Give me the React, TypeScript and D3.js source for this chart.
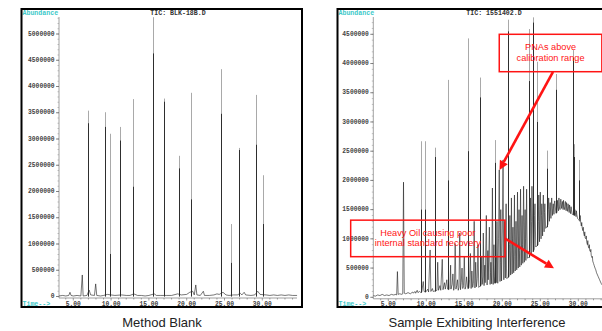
import React, { useRef, useEffect } from "react";
import * as d3 from "d3";

const W = 602;
const H = 331;

// retention time labels (min)
const timeTicks = [5, 10, 15, 20, 25, 30];
// abundance ticks, in millions
const blankAbundTicks = [0, 0.5, 1, 1.5, 2, 2.5, 3, 3.5, 4, 4.5, 5];
const sampleAbundTicks = [0, 0.5, 1, 1.5, 2, 2.5, 3, 3.5, 4, 4.5];

// method blank: [time, apex, dark core] in millions
const blankPeaks: [number, number, number][] = [
  [6.94, 3.54, 3.3], [9.23, 3.51, 3.23], [9.85, 3.1, 0.81], [11.2, 3.23, 2.97],
  [12.86, 3.76, 2.09], [15.5, 5.32, 4.63], [17.04, 3.77, 3.71], [19.0, 2.68, 2.44],
  [20.58, 3.88, 1.85], [24.55, 4.33, 3.48], [25.86, 1.38, 0.64], [26.9, 2.83, 2.79],
  [29.17, 3.84, 2.89], [30.13, 2.31, 1.38],
];

// method blank baseline: [time, abundance M]
const blankTrace: [number, number][] = [
  [3.1, 0.01], [3.6, 0.02], [4.0, 0.01], [4.4, 0.02], [4.56, 0.08], [4.7, 0.02], [5.0, 0.01],
  [5.5, 0.02], [6.0, 0.01], [6.19, 0.41], [6.3, 0.01], [6.8, 0.02], [7.1, 0.12], [7.3, 0.03],
  [7.8, 0.02], [7.96, 0.24], [8.1, 0.02], [8.6, 0.01], [9.0, 0.02], [9.5, 0.04], [10.0, 0.03],
  [10.5, 0.02], [11.4, 0.03], [12.0, 0.02], [12.5, 0.02], [13.0, 0.05], [13.5, 0.02], [14.0, 0.02],
  [14.5, 0.01], [15.0, 0.02], [15.7, 0.05], [16.0, 0.02], [16.5, 0.02], [17.3, 0.02], [18.0, 0.02],
  [18.8, 0.05], [19.3, 0.03], [20.0, 0.04], [20.4, 0.08], [20.8, 0.1], [21.0, 0.03], [21.2, 0.22],
  [21.35, 0.03], [21.8, 0.02], [22.2, 0.1], [22.35, 0.02], [23.0, 0.02], [23.6, 0.03], [24.0, 0.05],
  [24.3, 0.04], [24.8, 0.08], [25.2, 0.03], [25.6, 0.02], [26.2, 0.03], [26.7, 0.03], [27.1, 0.06],
  [27.3, 0.03], [27.6, 0.08], [27.8, 0.03], [28.5, 0.02], [29.0, 0.03], [29.4, 0.1], [29.7, 0.04],
  [30.5, 0.03], [31.0, 0.02], [31.5, 0.03], [32.0, 0.02], [32.5, 0.03], [33.0, 0.02], [33.5, 0.03],
  [34.0, 0.02], [34.6, 0.02],
];

// sample: tall peaks [time, apex, dark core] in millions
const samplePeaks: [number, number, number][] = [
  [9.26, 2.67, 1.5], [9.87, 2.67, 1.5], [11.2, 2.56, 2.4], [12.9, 3.72, 2.0],
  [15.5, 4.43, 2.5], [17.07, 3.76, 3.42], [19.04, 2.69, 2.3], [20.8, 4.75, 4.55],
  [23.5, 4.59, 3.7], [24.1, 4.79, 4.7], [24.6, 4.03, 3.0], [25.9, 2.51, 2.2],
  [27.07, 3.82, 3.55], [29.3, 4.23, 4.1], [29.4, 2.62, 2.4], [30.05, 2.35, 2.0],
];

// sample trace incl. heavy oil hump: [time, abundance M]
const sampleTrace: [number, number][] = [
  [3.0, 0.03], [3.3, 0.02], [3.6, 0.04], [3.9, 0.03], [4.2, 0.05], [4.5, 0.03], [4.8, 0.04],
  [5.1, 0.03], [5.4, 0.05], [5.7, 0.04], [6.0, 0.05], [6.1, 0.04], [6.2, 0.44], [6.3, 0.05],
  [6.5, 0.06], [6.8, 0.05], [6.9, 0.06], [7.0, 1.97], [7.1, 0.07], [7.3, 0.06], [7.6, 0.08],
  [7.9, 0.06], [8.2, 0.09], [8.3, 0.07], [8.5, 0.1], [8.6, 0.07], [8.8, 0.12], [8.9, 0.08],
  [9.1, 0.1], [9.3, 0.08], [9.4, 0.09], [9.6, 0.27], [9.7, 0.1], [9.9, 0.09], [10.0, 0.1],
  [10.2, 0.14], [10.3, 0.09], [10.5, 0.81], [10.6, 0.1], [10.8, 0.15], [10.9, 0.1], [11.2, 0.11],
  [11.4, 0.12], [11.5, 0.6], [11.6, 0.12], [11.8, 0.2], [11.9, 0.12], [12.1, 0.65], [12.2, 0.13],
  [12.4, 0.25], [12.5, 0.14], [12.7, 0.3], [12.8, 0.14], [12.95, 0.13],
  [13.1, 0.15], [13.2, 0.55], [13.25, 0.14], [13.4, 0.22], [13.5, 0.4], [13.6, 0.12], [13.7, 0.18],
  [13.8, 0.92], [13.9, 0.14], [14.0, 0.2], [14.1, 0.3], [14.2, 0.12], [14.3, 0.17], [14.4, 1.1],
  [14.5, 0.13], [14.6, 0.25], [14.7, 0.5], [14.8, 0.15], [14.9, 0.2], [15.0, 0.7], [15.1, 0.14],
  [15.2, 0.18], [15.3, 0.35], [15.45, 0.15], [15.6, 0.16], [15.7, 0.3], [15.8, 0.75], [15.9, 0.15],
  [16.0, 0.45], [16.1, 0.17], [16.2, 0.24], [16.3, 1.3], [16.4, 0.16], [16.5, 0.6], [16.6, 0.18],
  [16.7, 0.32], [16.8, 0.9], [16.9, 0.17], [17.05, 0.19], [17.2, 0.2], [17.3, 0.7], [17.35, 0.22],
  [17.45, 0.35], [17.5, 1.1], [17.6, 0.2], [17.7, 0.55], [17.75, 0.25], [17.9, 1.4], [18.0, 0.21],
  [18.1, 0.8], [18.15, 0.3], [18.3, 1.2], [18.4, 0.22], [18.45, 0.42], [18.5, 0.6], [18.6, 0.23],
  [18.7, 1.87], [18.8, 0.22], [18.9, 0.9], [18.95, 0.35], [19.0, 0.24], [19.15, 0.7], [19.2, 0.25],
  [19.3, 1.3], [19.4, 0.24], [19.45, 0.5], [19.5, 1.0], [19.6, 2.18], [19.7, 0.27], [19.75, 0.6],
  [19.8, 1.5], [19.9, 0.28], [20.0, 1.1], [20.1, 2.35], [20.2, 0.3], [20.25, 0.75], [20.3, 1.3],
  [20.4, 0.33], [20.5, 1.6], [20.55, 0.5], [20.6, 0.32], [20.75, 0.34], [20.9, 0.36], [20.95, 0.9],
  [21.0, 1.4], [21.1, 0.38], [21.15, 0.8], [21.2, 1.7], [21.3, 0.4], [21.35, 1.0], [21.4, 1.2],
  [21.5, 0.42], [21.6, 1.75], [21.65, 0.7], [21.7, 0.45], [21.8, 1.3], [21.85, 0.9], [21.9, 0.47],
  [22.0, 1.8], [22.05, 1.1], [22.1, 0.5], [22.2, 1.5], [22.25, 0.8], [22.3, 0.52], [22.4, 1.85],
  [22.45, 1.2], [22.5, 0.55], [22.6, 1.4], [22.65, 0.9], [22.7, 0.58], [22.8, 1.9], [22.85, 1.3],
  [22.9, 0.6], [23.0, 1.5], [23.05, 1.0], [23.1, 0.63], [23.2, 1.85], [23.25, 1.1], [23.3, 0.67],
  [23.45, 0.68], [23.6, 0.7], [23.65, 1.2], [23.7, 1.7], [23.8, 0.74], [23.85, 1.3], [23.9, 1.9],
  [24.05, 0.78], [24.2, 0.82], [24.25, 1.4], [24.3, 1.6], [24.4, 0.86], [24.55, 0.88], [24.7, 0.9],
  [24.75, 1.3], [24.8, 1.75], [24.9, 0.95], [24.95, 1.5], [25.0, 1.8], [25.1, 1.0], [25.15, 1.4],
  [25.2, 1.6], [25.3, 1.05], [25.35, 1.5], [25.4, 1.75], [25.5, 1.12], [25.55, 1.45], [25.6, 1.6],
  [25.7, 1.18], [25.85, 1.2], [26.0, 1.25], [26.05, 1.5], [26.1, 1.7], [26.2, 1.3], [26.25, 1.55],
  [26.3, 1.62], [26.4, 1.35], [26.45, 1.58], [26.5, 1.7], [26.6, 1.4], [26.65, 1.52], [26.7, 1.6],
  [26.8, 1.42], [26.85, 1.6], [26.9, 1.65], [27.05, 1.44], [27.2, 1.45], [27.25, 1.66], [27.3, 1.55],
  [27.4, 1.48], [27.45, 1.7], [27.5, 1.56], [27.6, 1.5], [27.65, 1.62], [27.7, 1.68], [27.8, 1.52],
  [27.85, 1.58], [27.9, 1.64], [28.0, 1.5], [28.05, 1.66], [28.1, 1.55], [28.2, 1.5], [28.25, 1.6],
  [28.3, 1.64], [28.4, 1.48], [28.45, 1.62], [28.5, 1.55], [28.6, 1.47], [28.65, 1.6], [28.7, 1.56],
  [28.8, 1.45], [28.85, 1.58], [28.9, 1.52], [29.0, 1.43], [29.05, 1.55], [29.1, 1.5], [29.2, 1.42],
  [29.35, 1.41], [29.5, 1.4], [29.55, 1.5], [29.6, 1.45], [29.7, 1.38], [29.75, 1.48], [29.8, 1.42],
  [29.9, 1.35], [30.05, 1.33], [30.2, 1.3], [30.25, 1.4], [30.3, 1.3], [30.4, 1.22], [30.45, 1.28],
  [30.5, 1.2], [30.6, 1.14], [30.65, 1.2], [30.7, 1.1], [30.8, 1.05], [30.85, 1.12], [30.9, 1.02],
  [31.0, 1.0], [31.05, 1.05], [31.1, 0.95], [31.2, 0.9], [31.25, 0.97], [31.3, 0.88], [31.4, 0.84],
  [31.45, 0.9], [31.5, 0.8], [31.6, 0.78], [31.65, 0.82], [31.7, 0.72], [31.8, 0.68], [31.85, 0.7],
  [31.9, 0.62], [32.0, 0.58], [32.1, 0.54], [32.2, 0.5], [32.3, 0.47], [32.4, 0.42], [32.6, 0.36],
  [32.8, 0.3], [33.0, 0.24], [33.3, 0.18], [33.6, 0.14], [34.0, 0.1], [34.5, 0.07], [35.2, 0.05],
];

// annotations on the sample panel, in data units (time, M)
const pnaBox = { t0: 19.6, t1: 33.1, v0: 3.86, v1: 4.5, lines: ["PNAs above", "calibration range"] };
const pnaArrow = { from: [26.67, 3.855], to: [19.63, 2.18] };
const oilBox = { t0: 0.05, t1: 20.36, v0: 0.695, v1: 1.32, lines: ["Heavy Oil causing poor", "internal standard recovery"] };
const oilArrow = { from: [20.36, 1.006], to: [26.8, 0.496] };

type Panel = {
  key: string;
  frame: [number, number, number, number];
  axisX: number;
  axisTop: number;
  xEnd: number;
  tRange: [number, number];
  vRange: [number, number];
  vMax: number;
  ticks: number[];
  title: string;
  titleX: number;
  caption: string;
  captionX: number;
  trace: [number, number][];
  peaks: [number, number, number][];
};

const panels: Panel[] = [
  {
    key: "blank", frame: [21.5, 9, 302, 307], axisX: 59, axisTop: 17, xEnd: 297,
    tRange: [73.3, 262.3], vRange: [296.5, 34], vMax: 5, ticks: blankAbundTicks,
    title: "TIC: BLK-18B.D", titleX: 178, caption: "Method Blank", captionX: 162,
    trace: blankTrace, peaks: blankPeaks,
  },
  {
    key: "sample", frame: [337.5, 9, 640, 307], axisX: 373.3, axisTop: 17, xEnd: 602,
    tRange: [388.3, 578.3], vRange: [297.3, 34.3], vMax: 4.5, ticks: sampleAbundTicks,
    title: "TIC: 1551402.D", titleX: 494, caption: "Sample Exhibiting Interference", captionX: 477,
    trace: sampleTrace, peaks: samplePeaks,
  },
];

const MONO = '"Liberation Mono", "DejaVu Sans Mono", monospace';
const SANS = '"Liberation Sans", Arial, sans-serif';
const CYAN = "#3cc9c9";
const RED = "#ff1414";

function drawPanel(svg: d3.Selection<SVGSVGElement, unknown, null, undefined>, p: Panel) {
  const x = d3.scaleLinear().domain([5, 30]).range(p.tRange);
  const y = d3.scaleLinear().domain([0, p.vMax]).range(p.vRange);
  const g = svg.append("g");

  const clipId = `clip-${p.key}`;
  g.append("clipPath").attr("id", clipId)
    .append("rect")
    .attr("x", p.axisX).attr("y", p.frame[1])
    .attr("width", p.frame[2] - p.axisX).attr("height", p.frame[3] - p.frame[1]);

  // y axis with minor ticks
  const ax = p.axisX;
  g.append("line").attr("x1", ax).attr("x2", ax).attr("y1", p.axisTop).attr("y2", y(0) + 1.5)
    .attr("stroke", "#8a8a8a").attr("stroke-width", 0.8);
  const vTop = y.invert(p.axisTop);
  g.selectAll(".ymin").data(d3.range(0, vTop, 0.1)).join("line")
    .attr("x1", ax - 1.5).attr("x2", ax)
    .attr("y1", (d) => y(d)).attr("y2", (d) => y(d))
    .attr("stroke", "#999").attr("stroke-width", 0.6);
  g.selectAll(".ymaj").data(p.ticks).join("line")
    .attr("x1", ax - 3).attr("x2", ax)
    .attr("y1", (d) => y(d)).attr("y2", (d) => y(d))
    .attr("stroke", "#666").attr("stroke-width", 0.8);
  g.selectAll(".ylab").data(p.ticks).join("text")
    .attr("x", ax - 4.5).attr("y", (d) => y(d))
    .attr("text-anchor", "end").attr("dominant-baseline", "middle")
    .attr("font-family", MONO).attr("font-size", 6.3).attr("font-weight", 700)
    .attr("fill", "#444")
    .text((d) => String(Math.round(d * 1e6)));

  // x axis
  const y0 = y(0) + 1.5;
  g.append("line").attr("x1", ax).attr("x2", p.xEnd).attr("y1", y0).attr("y2", y0)
    .attr("stroke", "#777").attr("stroke-width", 0.7);
  const tMin = Math.ceil(x.invert(ax));
  const tMax = x.invert(p.xEnd);
  g.selectAll(".xmin").data(d3.range(tMin, tMax, 1)).join("line")
    .attr("x1", (d) => x(d)).attr("x2", (d) => x(d))
    .attr("y1", y0).attr("y2", (d) => y0 + (d % 5 === 0 ? 2.5 : 1.5))
    .attr("stroke", "#777").attr("stroke-width", 0.7);
  g.selectAll(".xlab").data(timeTicks).join("text")
    .attr("x", (d) => x(d)).attr("y", y(0) + 9)
    .attr("text-anchor", "middle")
    .attr("font-family", MONO).attr("font-size", 6.3).attr("font-weight", 700)
    .attr("fill", "#444")
    .text((d) => d.toFixed(2));

  // trace
  const line = d3.line<[number, number]>().x((d) => x(d[0])).y((d) => y(d[1]));
  const plot = g.append("g").attr("clip-path", `url(#${clipId})`);
  plot.append("path").datum(p.trace).attr("d", line)
    .attr("fill", "none").attr("stroke", "#1c1c1c").attr("stroke-width", 0.6)
    .attr("stroke-linejoin", "round");

  // tall peaks: dark body, grey tip
  const bis = d3.bisector((d: [number, number]) => d[0]).left;
  const footOf = (t: number) => {
    const i = bis(p.trace, t);
    const a = p.trace[Math.max(0, i - 1)];
    const b = p.trace[Math.min(p.trace.length - 1, i)];
    return p.key === "blank" ? 0 : Math.min(a[1], b[1]);
  };
  const px = (t: number) => Math.round(x(t)) + 0.5;
  plot.selectAll(".tip").data(p.peaks).join("line")
    .attr("x1", (d) => px(d[0])).attr("x2", (d) => px(d[0]))
    .attr("y1", (d) => y(d[1])).attr("y2", (d) => y(footOf(d[0])))
    .attr("stroke", "#a9a9a9").attr("stroke-width", 1);
  plot.selectAll(".core").data(p.peaks).join("line")
    .attr("x1", (d) => px(d[0])).attr("x2", (d) => px(d[0]))
    .attr("y1", (d) => y(d[2])).attr("y2", (d) => y(footOf(d[0])))
    .attr("stroke", "#2e2e2e").attr("stroke-width", 1);

  // labels
  g.append("text").attr("x", p.frame[0] + 1).attr("y", 14.5)
    .attr("font-family", MONO).attr("font-size", 6.6).attr("font-weight", 700)
    .attr("fill", CYAN).text("Abundance");
  g.append("text").attr("x", p.frame[0] + 1).attr("y", y(0) + 9)
    .attr("font-family", MONO).attr("font-size", 6.6).attr("font-weight", 700)
    .attr("fill", CYAN).text("Time-->");
  g.append("text").attr("x", p.titleX).attr("y", 14.5).attr("text-anchor", "middle")
    .attr("font-family", MONO).attr("font-size", 6.6).attr("font-weight", 700)
    .attr("fill", "#333").text(p.title);

  // frame
  g.append("rect")
    .attr("x", p.frame[0]).attr("y", p.frame[1])
    .attr("width", p.frame[2] - p.frame[0]).attr("height", p.frame[3] - p.frame[1])
    .attr("fill", "none").attr("stroke", "#000").attr("stroke-width", 2);

  svg.append("text").attr("x", p.captionX).attr("y", 327).attr("text-anchor", "middle")
    .attr("font-family", SANS).attr("font-size", 13).attr("fill", "#222")
    .text(p.caption);

  return { x, y };
}

function drawArrow(
  g: d3.Selection<SVGGElement, unknown, null, undefined>,
  x1: number, y1: number, x2: number, y2: number
) {
  const ang = Math.atan2(y2 - y1, x2 - x1);
  const len = 9;
  const half = 4.5;
  const bx = x2 - len * Math.cos(ang);
  const by = y2 - len * Math.sin(ang);
  g.append("line").attr("x1", x1).attr("y1", y1).attr("x2", bx).attr("y2", by)
    .attr("stroke", RED).attr("stroke-width", 2.6);
  const pts = [
    [x2, y2],
    [bx + half * Math.sin(ang), by - half * Math.cos(ang)],
    [bx - half * Math.sin(ang), by + half * Math.cos(ang)],
  ];
  g.append("polygon").attr("points", pts.map((q) => q.join(",")).join(" ")).attr("fill", RED);
}

function drawNote(
  g: d3.Selection<SVGGElement, unknown, null, undefined>,
  x: d3.ScaleLinear<number, number>, y: d3.ScaleLinear<number, number>,
  box: { t0: number; t1: number; v0: number; v1: number; lines: string[] }
) {
  const bx0 = x(box.t0), bx1 = x(box.t1), by0 = y(box.v1), by1 = y(box.v0);
  g.append("rect").attr("x", bx0).attr("y", by0).attr("width", bx1 - bx0).attr("height", by1 - by0)
    .attr("fill", "none").attr("stroke", RED).attr("stroke-width", 1.5);
  const cx = (bx0 + bx1) / 2;
  const cy = (by0 + by1) / 2;
  box.lines.forEach((s, i) => {
    g.append("text").attr("x", cx).attr("y", cy + (i - (box.lines.length - 1) / 2) * 10.2)
      .attr("text-anchor", "middle").attr("dominant-baseline", "middle")
      .attr("font-family", SANS).attr("font-size", 9.2).attr("fill", RED).text(s);
  });
}

export default function App() {
  const ref = useRef<SVGSVGElement | null>(null);

  useEffect(() => {
    if (!ref.current) return;
    const svg = d3.select(ref.current);
    svg.selectAll("*").remove();
    svg.append("rect").attr("width", W).attr("height", H).attr("fill", "#fff");

    let scales: { x: d3.ScaleLinear<number, number>; y: d3.ScaleLinear<number, number> } | null = null;
    panels.forEach((p) => {
      scales = drawPanel(svg, p);
    });

    // red call-outs on the sample panel
    const { x, y } = scales!;
    const ann = svg.append("g");
    drawNote(ann, x, y, pnaBox);
    drawNote(ann, x, y, oilBox);
    drawArrow(ann, x(pnaArrow.from[0]), y(pnaArrow.from[1]), x(pnaArrow.to[0]), y(pnaArrow.to[1]));
    drawArrow(ann, x(oilArrow.from[0]), y(oilArrow.from[1]), x(oilArrow.to[0]), y(oilArrow.to[1]));
  }, []);

  return (
    <svg ref={ref} width={W} height={H}
      style={{ position: "absolute", left: 0, top: 0, display: "block" }} />
  );
}
